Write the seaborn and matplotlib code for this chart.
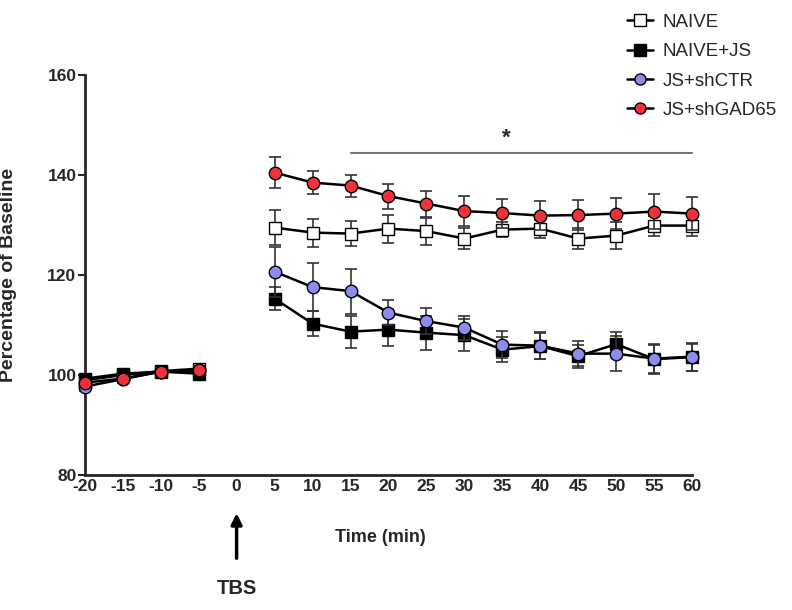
import numpy as np
import pandas as pd
import matplotlib
matplotlib.use('Agg')
import matplotlib.pyplot as plt
import seaborn as sns

# Data
time_base = [-20, -15, -10, -5]
time_post = [5, 10, 15, 20, 25, 30, 35, 40, 45, 50, 55, 60]
groups = ['NAIVE', 'NAIVE+JS', 'JS+shCTR', 'JS+shGAD65']

naive_base = [99.0, 100.0, 100.8, 101.3]
naive_base_err = [0.8, 0.8, 0.8, 1.0]
naive_post = [129.5, 128.5, 128.3, 129.3, 128.8, 127.3, 129.1, 129.3, 127.3, 127.9, 129.9, 129.9]
naive_post_err = [3.5, 2.8, 2.5, 2.8, 2.7, 2.1, 1.5, 1.8, 2.1, 2.7, 2.0, 2.0]

naivejs_base = [99.3, 100.3, 100.7, 100.3]
naivejs_base_err = [0.8, 0.8, 0.8, 0.9]
naivejs_post = [115.3, 110.3, 108.7, 109.1, 108.5, 108.0, 105.1, 105.8, 103.8, 106.2, 103.2, 103.6]
naivejs_post_err = [2.3, 2.5, 3.2, 3.3, 3.4, 3.2, 2.5, 2.6, 2.3, 2.5, 2.8, 2.7]

shctr_base = [97.7, 99.2, 100.7, 101.0]
shctr_base_err = [0.8, 0.8, 0.8, 0.9]
shctr_post = [120.7, 117.6, 116.8, 112.5, 110.8, 109.5, 106.1, 105.9, 104.3, 104.3, 103.3, 103.7]
shctr_post_err = [5.0, 4.8, 4.5, 2.5, 2.6, 2.4, 2.7, 2.7, 2.5, 3.5, 3.0, 2.8]

shgad_base = [98.5, 99.3, 100.7, 101.0]
shgad_base_err = [0.8, 0.8, 0.8, 0.9]
shgad_post = [140.5, 138.5, 137.9, 135.8, 134.3, 132.8, 132.4, 131.9, 132.0, 132.3, 132.7, 132.3]
shgad_post_err = [3.1, 2.3, 2.2, 2.5, 2.6, 3.0, 2.9, 2.9, 3.0, 3.1, 3.5, 3.3]

xticks = list(range(-20, 65, 5))
yticks = [80, 100, 120, 140, 160]

series = {
    'NAIVE': (naive_base, naive_base_err, naive_post, naive_post_err),
    'NAIVE+JS': (naivejs_base, naivejs_base_err, naivejs_post, naivejs_post_err),
    'JS+shCTR': (shctr_base, shctr_base_err, shctr_post, shctr_post_err),
    'JS+shGAD65': (shgad_base, shgad_base_err, shgad_post, shgad_post_err),
}
styles = {
    'NAIVE': ('s', 'white'),
    'NAIVE+JS': ('s', 'black'),
    'JS+shCTR': ('o', '#8c8cf0'),
    'JS+shGAD65': ('o', '#f0303a'),
}

sns.set_style('ticks')
plt.rcParams['font.family'] = ['Liberation Sans', 'DejaVu Sans']

fig = plt.figure(figsize=(7.92, 6.10), dpi=100)
ax = fig.add_axes([0.107, 0.221, 0.767, 0.656])

handles = []
for i, g in enumerate(groups):
    base, base_err, post, post_err = series[g]
    marker, fc = styles[g]
    for xs, ys, es in [(time_base, base, base_err), (time_post, post, post_err)]:
        ax.errorbar(xs, ys, yerr=es, fmt='none', ecolor='#333333', elinewidth=1.2,
                    capsize=4, capthick=1.2, zorder=2 + i, clip_on=False)
        df = pd.DataFrame({'Time': xs, 'Value': ys})
        sns.lineplot(data=df, x='Time', y='Value', ax=ax, color='black', lw=1.8,
                     marker=marker, markersize=9, markerfacecolor=fc,
                     markeredgecolor='black', markeredgewidth=1.0,
                     zorder=3 + i, clip_on=False)
    h, = ax.plot([], [], color='black', lw=1.8, marker=marker, markersize=8,
                 markerfacecolor=fc, markeredgecolor='black')
    handles.append(h)

# significance bar
ax.plot([15, 60], [144.4, 144.4], color='#777777', lw=1.5, clip_on=False)
ax.text(35.5, 145.2, '*', ha='center', va='bottom', fontsize=16, fontweight='bold')

ax.set_xlim(-20, 60)
ax.set_ylim(80, 160)
ax.set_xticks(xticks)
ax.set_yticks(yticks)
ax.set_xticklabels([str(t) for t in xticks], fontweight='bold', fontsize=12.5)
ax.set_yticklabels([str(t) for t in yticks], fontweight='bold', fontsize=12.5)
ax.tick_params(axis='x', length=0, pad=3)
ax.tick_params(axis='y', length=5, width=1.5, pad=1)
ax.set_xlabel('Time (min)', fontweight='bold', fontsize=13)
ax.xaxis.set_label_coords(0.486, -0.135)
ax.set_ylabel('Percentage of Baseline', fontweight='bold', fontsize=14)
ax.yaxis.set_label_coords(-0.112, 0.5)
for s in ['top', 'right']:
    ax.spines[s].set_visible(False)
for s in ['left', 'bottom']:
    ax.spines[s].set_linewidth(2)

# TBS arrow
ax.annotate('', xy=(0, -0.095), xytext=(0, -0.2075), xycoords=('data', 'axes fraction'),
            textcoords=('data', 'axes fraction'),
            arrowprops=dict(arrowstyle='-|>', color='black', lw=2.5, mutation_scale=16,
                            shrinkA=0, shrinkB=0))
ax.text(0, -0.2825, 'TBS', transform=ax.get_xaxis_transform(), ha='center', va='center',
        fontsize=14.5, fontweight='bold')

fig.legend(handles, groups, loc='upper left', bbox_to_anchor=(0.77, 1.005), frameon=False,
           fontsize=13.5, handlelength=1.4, labelspacing=0.65, handletextpad=0.5)

fig.savefig('out.png', dpi=100)
